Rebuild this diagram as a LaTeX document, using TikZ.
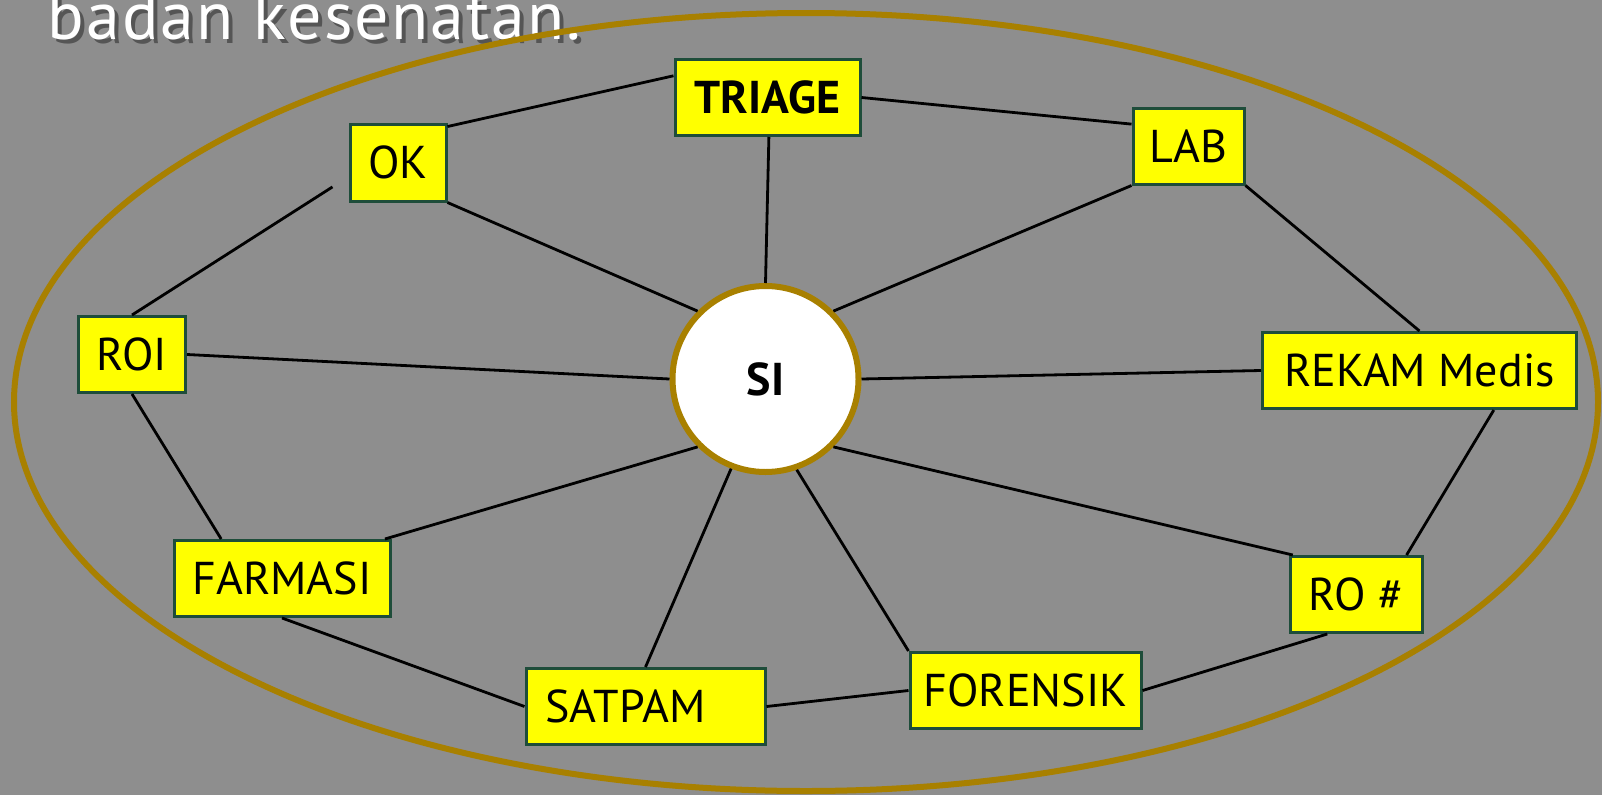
\documentclass[tikz,border=0pt]{standalone}
\usepackage{fontspec}
\setmainfont{PT Sans}

\definecolor{bggray}{RGB}{142,142,142}
\definecolor{ringgold}{RGB}{168,128,0}
\definecolor{boxline}{RGB}{30,77,58}
\definecolor{boxyellow}{RGB}{255,255,0}
\definecolor{shadowgray}{RGB}{85,85,85}

\tikzset{
    unit/.style={draw=boxline, line width=3pt, fill=boxyellow, minimum height=76pt,
        inner sep=0pt, font=\fontsize{46}{50}\selectfont},
    hub/.style={circle, draw=ringgold, line width=6pt, fill=white, minimum size=186pt,
        inner sep=0pt, font=\fontsize{46}{50}\selectfont\bfseries},
    link/.style={line width=2.8pt, black},
    headline/.style={anchor=base west, font=\fontsize{68}{70}\selectfont\addfontfeature{LetterSpace=3}},
}

\begin{document}
\begin{tikzpicture}[x=1pt, y=-1pt]
    % Background and frame
    \useasboundingbox (0,0) rectangle (1602,795);
    \fill[bggray] (0,0) rectangle (1602,795);

    % Title (cut off at the top)
    \node[headline, text=shadowgray] (titleshadow) at (48,43) {badan kesenatan.};
    \node[headline, text=white] (title) at (44,39) {badan kesenatan.};

    % Outer ring
    \draw[ringgold, line width=6pt] (806,402) ellipse [x radius=792, y radius=389];

    % Units
    \node[hub] (si) at (765.5,379) {SI};
    \node[unit, minimum width=185pt, font=\fontsize{46}{50}\selectfont\bfseries] (triage) at (767.5,97.5) {TRIAGE};
    \node[unit, minimum width=96pt, minimum height=77pt] (ok) at (398,162.5) {OK};
    \node[unit, minimum width=111pt] (lab) at (1188.5,146) {LAB};
    \node[unit, minimum width=107pt] (roi) at (132,354.5) {ROI};
    \node[unit, minimum width=314pt] (rekam) at (1419.5,370.5) {REKAM Medis};
    \node[unit, minimum width=216pt] (farmasi) at (282,578.5) {FARMASI};
    \node[unit, minimum width=132pt] (ro) at (1356,594.5) {RO \#};
    \node[unit, minimum width=239pt, text width=200pt, align=left] (satpam) at (645.5,706.5) {SATPAM};
    \node[unit, minimum width=231pt] (forensik) at (1025.5,690.5) {FORENSIK};

    % Draw the links
    \foreach \a/\b in {ok.36/triage.167, triage.east/lab.159, triage.272/si.90,
        ok.south east/si.135, lab.south west/si.45, lab.south east/rekam.north,
        roi.east/si.180, rekam.west/si.0, rekam.332.5/ro.38,
        roi.south/farmasi.147, farmasi.21/si.225, si.315/ro.148,
        si.249/satpam.north, si.289/forensik.north west,
        farmasi.south/satpam.west, satpam.east/forensik.west, forensik.east/ro.234}
        \draw[link] (\a) -- (\b);
    \draw[link, shorten >=19pt] (roi.north) -- (ok.196.5);

\end{tikzpicture}
\end{document}
